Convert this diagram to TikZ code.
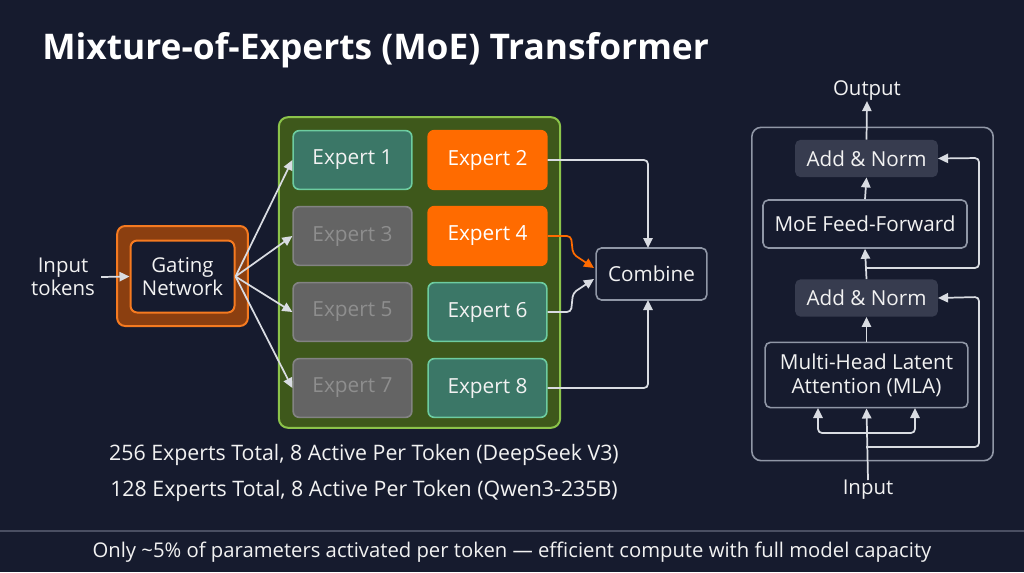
\documentclass[tikz,border=0pt]{standalone}
\usepackage{fontspec}
\setmainfont{Open Sans}
\usetikzlibrary{arrows.meta}
\definecolor{bg}{HTML}{161B2E}
\definecolor{txt}{HTML}{F2F2F2}
\definecolor{arr}{HTML}{D9DCE2}
\definecolor{gout}{HTML}{8B3F10}
\definecolor{gbord}{HTML}{F57A20}
\definecolor{grfill}{HTML}{3E581B}
\definecolor{grbord}{HTML}{8BC34A}
\definecolor{tealf}{HTML}{3B7767}
\definecolor{tealb}{HTML}{6DCCA0}
\definecolor{grayf}{HTML}{646464}
\definecolor{grayb}{HTML}{838383}
\definecolor{grayt}{HTML}{8E8E8E}
\definecolor{orng}{HTML}{FF6B00}
\definecolor{boxb}{HTML}{9097A6}
\definecolor{anf}{HTML}{373C4F}
\definecolor{sep}{HTML}{4A4F62}
\begin{document}
\begin{tikzpicture}[x=0.75pt,y=-0.75pt,
  lbl/.style={text=txt,font=\fontsize{15.3}{17.5}\selectfont,align=center,inner sep=0pt},
  stat/.style={text=txt,font=\fontsize{16}{18}\selectfont,inner sep=0pt},
  expbox/.style={rounded corners=4.5pt,minimum width=89pt,minimum height=44pt,inner sep=0pt,font=\fontsize{15.6}{18}\selectfont,line width=1.2pt},
  act/.style={expbox,fill=tealf,draw=tealb,text=txt},
  inact/.style={expbox,fill=grayf,draw=grayb,text=grayt},
  hot/.style={expbox,fill=orng,draw=orng,text=white},
  ar/.style={draw=arr,line width=1.3pt,-{Triangle[length=7.5pt,width=7pt]}},
  rbox/.style={rounded corners=4pt,draw=boxb,line width=1.2pt,fill=bg,text=txt,inner sep=0pt,font=\fontsize{15.5}{18}\selectfont,align=center},
  anbox/.style={rounded corners=4pt,fill=anf,text=txt,inner sep=0pt,minimum width=107pt,minimum height=28pt,font=\fontsize{15.5}{18}\selectfont}
]
\useasboundingbox (0,0) rectangle (1024,572);
\fill[bg] (0,0) rectangle (1024,572);
\draw[sep,line width=1pt] (0,531) -- (1024,531);

% title
\node[anchor=west,text=white,font=\fontsize{26.5}{30}\selectfont\bfseries,inner sep=0pt] (title) at (42,50) {Mixture-of-Experts (MoE) Transformer};

% gating
\node[rounded corners=6pt,fill=gout,draw=gbord,line width=1.5pt,minimum width=98pt,minimum height=75pt] (gout) at (182.5,276) {};
\node[rounded corners=5pt,fill=bg,draw=gbord,line width=1.5pt,minimum width=78pt,minimum height=54pt,lbl] (gate) at (182.5,276.5) {Gating\\Network};
\node[lbl] (inp) at (63,277) {Input\\tokens};
\draw[ar] (inp.east)+(6,0) -- (gate.west);

% green container
\node[rounded corners=7pt,fill=grfill,draw=grbord,line width=1.5pt,minimum width=211pt,minimum height=233pt] (cont) at (419.5,272.5) {};

% experts
\node[act] (e1) at (352.5,160) {Expert 1};
\node[hot] (e2) at (487.5,160) {Expert 2};
\node[inact] (e3) at (352.5,236) {Expert 3};
\node[hot] (e4) at (487.5,236) {Expert 4};
\node[inact] (e5) at (352.5,312) {Expert 5};
\node[act] (e6) at (487.5,312) {Expert 6};
\node[inact] (e7) at (352.5,388) {Expert 7};
\node[act] (e8) at (487.5,388) {Expert 8};

\foreach \e in {e1,e3,e5,e7} \draw[ar] (gate.east) -- (\e.west);

% combine
\node[rbox,minimum width=83pt,minimum height=39pt] (comb) at (651.5,274) {Combine};
\draw[ar,rounded corners=3pt] (e2.east) -- (648,160) -- (648,248);
\draw[ar,rounded corners=3pt] (e8.east) -- (648,388) -- (648,300);
\draw[draw=orng,line width=1.3pt,-{Triangle[length=7.5pt,width=7pt]},rounded corners=3pt] (e4.east) -- (571,236) -- (573,254) -- (594,268);
\draw[ar,rounded corners=3pt] (e6.east) -- (571,312) -- (573,293) -- (594,279);

% stats
\node[stat] (s1) at (364,455) {256 Experts Total, 8 Active Per Token (DeepSeek V3)};
\node[stat] (s2) at (364,491) {128 Experts Total, 8 Active Per Token (Qwen3-235B)};

% right block
\node[rounded corners=7pt,draw=boxb,line width=1.2pt,minimum width=181pt,minimum height=250pt] (blk) at (872.5,294) {};
\node[lbl] (out) at (867,91) {Output};
\node[lbl] (in) at (868,490) {Input};
\node[anbox] (an1) at (866.5,158.5) {Add \& Norm};
\node[rbox,minimum width=153pt,minimum height=36pt] (moe) at (865,224) {MoE Feed-Forward};
\node[anbox] (an2) at (866.5,298) {Add \& Norm};
\node[rbox,minimum width=152pt,minimum height=49pt] (mla) at (866.5,375) {Multi-Head Latent\\Attention (MLA)};

\draw[ar] (an1.north) -- (out.south);
\draw[ar] (moe.north) -- (an1.south);
\draw[ar] (an2.north) -- (moe.south);
\draw[ar] (mla.north) -- (an2.south);
\draw[ar] (in.north) -- (mla.south);
\coordinate (r1) at (866,268);
\coordinate (r2) at (866,447);
\draw[ar,rounded corners=3pt] (r1) -- (979,268) -- (979,158) -- (an1.east);
\draw[ar,rounded corners=3pt] (r2) -- (979,447) -- (979,297) -- (an2.east);
\draw[ar,rounded corners=3pt] (866,433) -- (818,433) -- (818,408);
\draw[ar,rounded corners=3pt] (866,433) -- (915,433) -- (915,408);

% footer
\node[text=txt,font=\fontsize{15.2}{17}\selectfont,inner sep=0pt] (foot) at (512,552) {Only \textasciitilde5\% of parameters activated per token — efficient compute with full model capacity};
\end{tikzpicture}
\end{document}
